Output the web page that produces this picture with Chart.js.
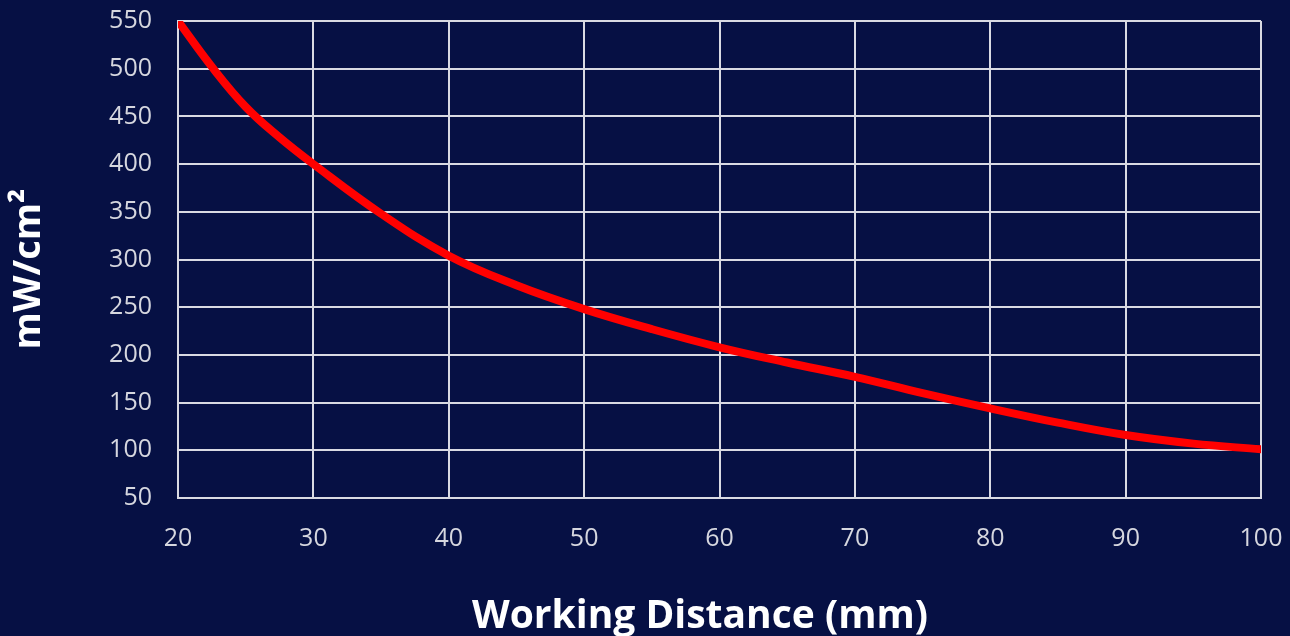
<!DOCTYPE html>
<html>
<head>
<meta charset="utf-8">
<title>Irradiance vs Working Distance</title>
<script src="https://cdn.jsdelivr.net/npm/chart.js@4.4.1/dist/chart.umd.min.js"></script>
<style>
  html, body { margin: 0; padding: 0; background: #061044; overflow: hidden; }
  #wrap { width: 1290px; height: 636px; position: relative; }
</style>
</head>
<body>
<div id="wrap"><canvas id="chart"></canvas></div>
<script>
// Values
const distances = [20, 22.5, 25, 27.5, 30, 35, 40, 45, 50, 55, 60, 65, 70, 75, 80, 85, 90, 95, 100];
const irradiance = [550, 502, 460, 428, 400, 348, 304, 273, 248, 227, 208, 192, 177, 160, 144, 129, 116, 107, 101];

// Tick labels
const xTicks = [20, 30, 40, 50, 60, 70, 80, 90, 100];
const yTicks = [50, 100, 150, 200, 250, 300, 350, 400, 450, 500, 550];

const gridColor = '#d9dae3';
const tickColor = '#d6d7df';

const points = distances.map((d, i) => ({ x: d, y: irradiance[i] }));

new Chart(document.getElementById('chart'), {
  type: 'line',
  data: {
    datasets: [{
      data: points,
      borderColor: '#ff0000',
      borderWidth: 8,
      borderCapStyle: 'round',
      borderJoinStyle: 'round',
      tension: 0.4,
      pointRadius: 0,
      fill: false
    }]
  },
  options: {
    responsive: true,
    maintainAspectRatio: false,
    animation: false,
    layout: {
      padding: { top: 21, right: 29, bottom: 0, left: 0 }
    },
    plugins: {
      legend: { display: false },
      tooltip: { enabled: false }
    },
    scales: {
      x: {
        type: 'linear',
        min: xTicks[0],
        max: xTicks[xTicks.length - 1],
        afterBuildTicks: scale => { scale.ticks = xTicks.map(v => ({ value: v })); },
        afterFit: scale => {
          scale.height = 138;
          scale.paddingLeft = 0;
          scale.paddingRight = 0;
        },
        grid: { color: gridColor, lineWidth: 2, drawTicks: false },
        border: { color: gridColor, width: 2 },
        ticks: {
          color: tickColor,
          padding: 26,
          font: { family: 'Open Sans', size: 25 }
        },
        title: {
          display: true,
          // trailing em space nudges the centred title left, as in the original
          text: 'Working Distance (mm)\u2003',
          color: '#ffffff',
          padding: 0,
          font: { family: 'Open Sans', size: 39, weight: 'bold', lineHeight: 1.0 }
        }
      },
      y: {
        min: yTicks[0],
        max: yTicks[yTicks.length - 1],
        afterBuildTicks: scale => { scale.ticks = yTicks.map(v => ({ value: v })); },
        afterFit: scale => {
          scale.width = 178;
          scale.paddingTop = 0;
          scale.paddingBottom = 0;
        },
        grid: { color: gridColor, lineWidth: 2, drawTicks: false },
        border: { color: gridColor, width: 2 },
        ticks: {
          color: tickColor,
          padding: 26,
          font: { family: 'Open Sans', size: 25 }
        },
        title: {
          display: true,
          text: 'mW/cm²\u2002',
          color: '#ffffff',
          padding: { top: 8, bottom: 0 },
          font: { family: 'Open Sans', size: 38, weight: 'bold', lineHeight: 1.1 }
        }
      }
    }
  }
});
</script>
</body>
</html>
